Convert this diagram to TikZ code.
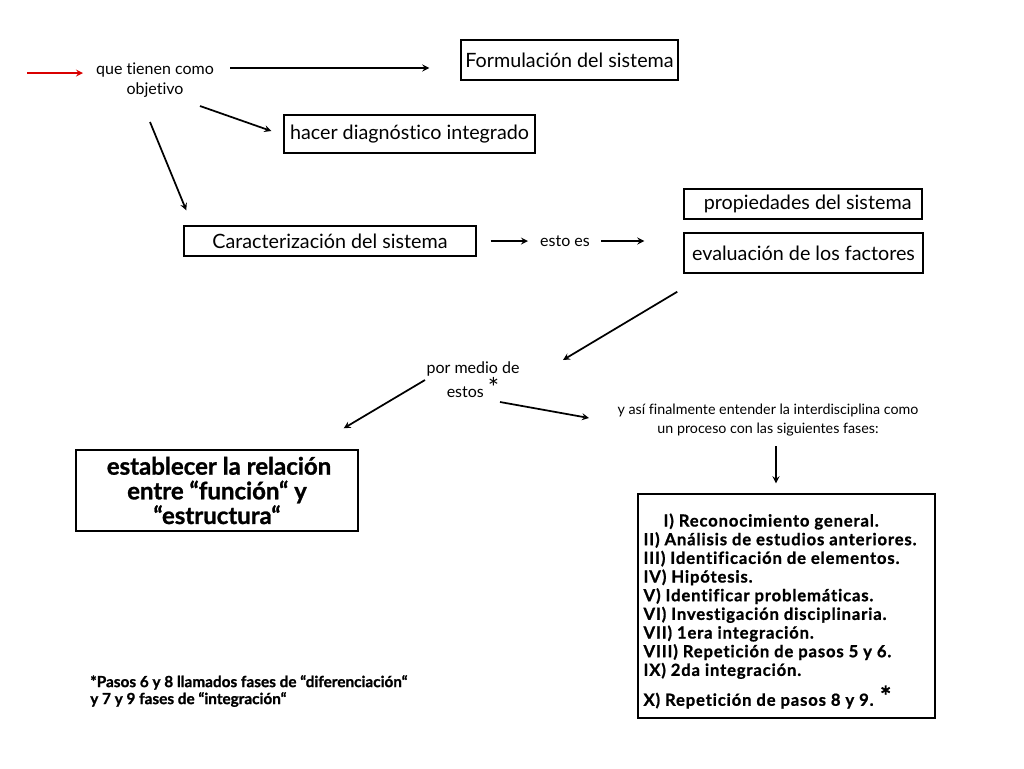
\documentclass[tikz,border=0pt]{standalone}
\usepackage{fontspec}
\setmainfont{Lato}[Ligatures=NoCommon]
\newfontfamily\heavy{Lato}[Ligatures=NoCommon, BoldFeatures={FakeBold=1.1}]
\newfontfamily\heavywide{Lato}[Ligatures=NoCommon, BoldFeatures={FakeBold=1,LetterSpace=5}]
\tikzset{
  box/.style={draw, line width=1.1pt, inner sep=0pt, font=\fontsize{14.8}{16}\selectfont},
  lbl/.style={align=center, font=\fontsize{12}{15.5}\selectfont},
  arr/.style={->, >=stealth, line width=1.3pt},
}
\begin{document}
\begin{tikzpicture}[x=0.75pt, y=-0.75pt]

  \useasboundingbox (0,0) rectangle (1024,768);

  % % boxes
  \node[box, minimum width=162.75pt, minimum height=30pt] (form) at (569.5,60) {Formulación del sistema};
  \node[box, minimum width=188.25pt, minimum height=28.5pt] (diag) at (409.5,134) {hacer diagnóstico integrado};
  \node[box, minimum width=219pt, minimum height=22.5pt] (carac) at (330,241) {Caracterización del sistema};
  \node[box, minimum width=178.5pt, minimum height=22.5pt] (prop) at (803,204) {\hspace*{7pt}propiedades del sistema};
  \node[box, minimum width=179.25pt, minimum height=30pt] (eval) at (803.5,253) {evaluación de los factores};
  \node[box, minimum width=211.5pt, minimum height=60.75pt, align=center,
        font=\fontsize{18}{18.5}\selectfont\heavy\bfseries] (estab) at (217,490.5)
        {\hspace*{3pt}establecer la relación\\ entre “función“ y\\ “estructura“};
  \node[box, minimum width=222.75pt, minimum height=168pt] (fases) at (786.5,606) {};

  % % labels
  \node[lbl] (que) at (155,80) {que tienen como\\ objetivo};
  \node[lbl] (esto) at (565,241) {esto es};
  \node[lbl] (por) at (473,380) {por medio de\\ estos {\fontsize{20}{15.5}\selectfont *}};
  \node[lbl, font=\fontsize{10.7}{14}\selectfont] (yasi) at (768,420)
        {y así finalmente entender la interdisciplina como\\ un proceso con las siguientes fases:};
  \node[anchor=west, align=left, inner sep=0pt, font=\fontsize{12.5}{14}\selectfont\heavywide\bfseries] (lista) at ([shift={(6,5)}]fases.west)
        {\hspace*{15pt}I) Reconocimiento general.\\
         II) Análisis de estudios anteriores.\\
         III) Identificación de elementos.\\
         IV) Hipótesis.\\
         V) Identificar problemáticas.\\
         VI) Investigación disciplinaria.\\
         VII) 1era integración.\\
         VIII) Repetición de pasos 5 y 6.\\
         IX) 2da integración.\\[4pt]
         X) Repetición de pasos 8 y 9. {\fontsize{20}{14}\selectfont *}};
  \node[anchor=west, align=left, inner sep=0pt, font=\fontsize{11.5}{12.75}\selectfont\heavy\bfseries] (nota) at (90,691)
        {*Pasos 6 y 8 llamados fases de “diferenciación“\\ y 7 y 9 fases de “integración“};

  % % arrows
  \coordinate (inicio) at ([shift={(-128,-7)}]que.center);
  \draw[arr, red!85!black] (inicio) -- ([shift={(-72,-7)}]que.center);
  \draw[arr] ([shift={(75,-12)}]que.center) -- ([shift={(-31,8)}]form.west);
  \draw[arr] ([shift={(45,26)}]que.center) -- ([shift={(-12,-3)}]diag.west);
  \draw[arr] ([shift={(-5,42)}]que.center) -- ([shift={(3,-15)}]carac.north west);
  \draw[arr] ([shift={(14,0)}]carac.east) -- ([shift={(-37,0)}]esto.center);
  \draw[arr] ([shift={(36,0)}]esto.center) -- ([shift={(-39,-12)}]eval.west);
  \draw[arr] ([shift={(-6,18)}]eval.south west) -- ([shift={(90,-20)}]por.center);
  \draw[arr] ([shift={(-48,0)}]por.center) -- ([shift={(-15,-21)}]estab.north east);
  \draw[arr] ([shift={(27,22)}]por.center) -- ([shift={(-179,-2)}]yasi.center);
  \draw[arr] ([shift={(-10.5,-47)}]fases.north) -- ([shift={(-10.5,-10)}]fases.north);

\end{tikzpicture}
\end{document}
